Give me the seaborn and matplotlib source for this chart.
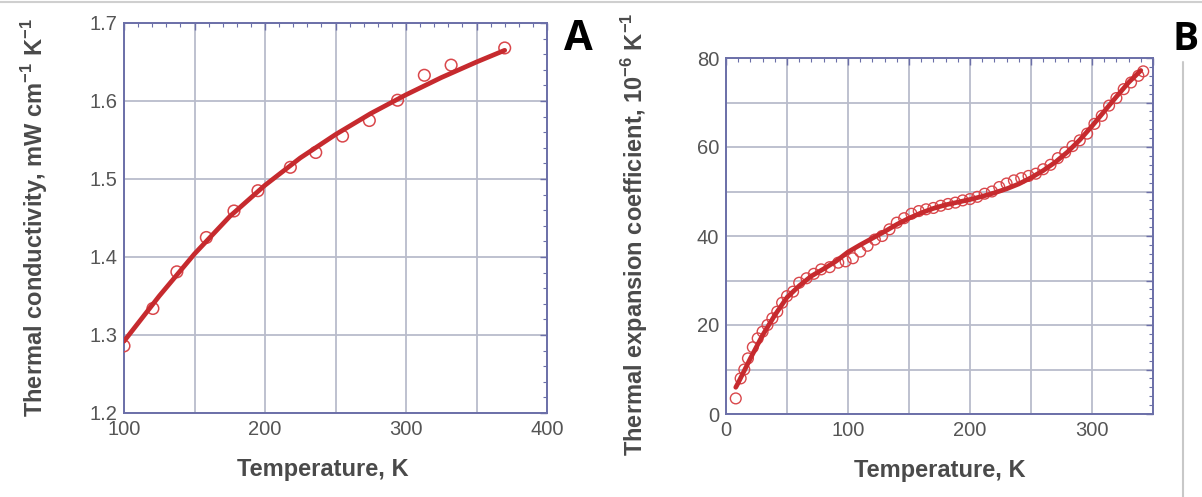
import matplotlib
matplotlib.use('Agg')
import matplotlib.pyplot as plt
import matplotlib.ticker as mticker
from matplotlib.lines import Line2D
import seaborn as sns
import pandas as pd

# Panel A: thermal conductivity
cond_T = [100, 120.5, 137.5, 158.4, 178, 195, 218, 236, 255, 274, 294, 313, 332, 370]
cond_val = [1.286, 1.334, 1.381, 1.425, 1.459, 1.485, 1.515, 1.534, 1.555, 1.575,
            1.601, 1.633, 1.646, 1.668]
cond_fit_T = [100, 125, 150, 175, 200, 225, 250, 275, 300, 325, 350, 370]
cond_fit_val = [1.292, 1.350, 1.404, 1.452, 1.492, 1.527, 1.557, 1.584, 1.608, 1.630,
                1.650, 1.665]

# Panel B: thermal expansion coefficient
exp_T = [8, 12, 15, 18, 22, 26, 30, 34, 38, 42, 46, 50, 55, 60, 66, 72, 78, 85, 92, 98,
         104, 110, 116, 122, 128, 134, 140, 146, 152, 158, 164, 170, 176, 182, 188, 194,
         200, 206, 212, 218, 224, 230, 236, 242, 248, 254, 260, 266, 272, 278, 284, 290,
         296, 302, 308, 314, 320, 326, 332, 338, 342]
exp_val = [3.5, 8, 10, 12.5, 15, 17, 18.5, 20, 21.5, 23, 25, 26.5, 27.5, 29.5, 30.5, 31.5,
           32.5, 33, 34, 34.3, 35, 36.5, 37.8, 39.2, 40, 41.5, 43, 44, 45, 45.6, 46, 46.3,
           46.8, 47.2, 47.5, 48, 48.3, 48.8, 49.5, 50, 51, 51.8, 52.5, 53, 53.5, 54, 55, 56,
           57.5, 58.8, 60.2, 61.5, 63, 65.2, 67, 69.3, 71, 73, 74.5, 76, 77]
exp_fit_T = [8, 10, 20, 30, 40, 50, 60, 70, 80, 90, 100, 110, 120, 130, 140, 150, 160,
             170, 180, 190, 200, 210, 220, 230, 240, 250, 260, 270, 280, 290, 300, 310,
             320, 330, 340]
exp_fit_val = [6.0, 7.0, 12.5, 17.7, 22.2, 26.2, 28.8, 31.0, 32.6, 34.3, 36.4, 38.0, 39.5,
               41.0, 42.6, 44.0, 45.2, 46.2, 47.0, 47.6, 48.2, 48.9, 49.7, 50.6, 51.7,
               53.1, 54.7, 56.6, 58.9, 61.6, 64.7, 68.0, 71.3, 74.5, 77.2]

sns.set_style("white")
plt.rcParams['font.family'] = ['Liberation Sans', 'DejaVu Sans']
plt.rcParams['mathtext.fontset'] = 'custom'
plt.rcParams['mathtext.bf'] = 'Liberation Sans:bold'
plt.rcParams['mathtext.rm'] = 'Liberation Sans'

line_color = '#c62a2e'
dot_color = '#d9474b'
frame_color = '#6b6fa8'
grid_color = '#b9bccb'
text_color = '#4a4a4a'

W, H = 1202, 497
fig = plt.figure(figsize=(W / 100, H / 100), dpi=100)


def box(left, top, right, bottom):
    return [left / W, 1 - bottom / H, (right - left) / W, (bottom - top) / H]


axA = fig.add_axes(box(124, 23, 547, 413))
axB = fig.add_axes(box(726, 58, 1153, 414))


def style(ax, xmaj, xlab, xmin, ymaj, ylab, ymin, yfmt):
    ax.xaxis.set_major_locator(mticker.MultipleLocator(xmaj))
    ax.xaxis.set_minor_locator(mticker.MultipleLocator(xmin))
    ax.yaxis.set_major_locator(mticker.MultipleLocator(ymaj))
    ax.yaxis.set_minor_locator(mticker.MultipleLocator(ymin))
    ax.xaxis.set_major_formatter(mticker.FuncFormatter(
        lambda v, p: f"{v:.0f}" if abs(v / xlab - round(v / xlab)) < 1e-6 else ""))
    ax.yaxis.set_major_formatter(mticker.FuncFormatter(
        lambda v, p: format(v, yfmt) if abs(v / ylab - round(v / ylab)) < 1e-6 else ""))
    ax.grid(True, which='major', color=grid_color, linewidth=1.3)
    ax.set_axisbelow(True)
    for s in ax.spines.values():
        s.set_color(frame_color)
        s.set_linewidth(1.4)
    ax.tick_params(which='both', direction='in', top=True, right=True,
                   color=frame_color, labelcolor='#555555', labelsize=14.5, pad=5)
    ax.tick_params(which='major', length=5, width=1.0)
    ax.tick_params(which='minor', length=3, width=0.8)


label_kw = dict(fontsize=17, fontweight='bold', color=text_color)

# Panel A
dfA = pd.DataFrame({'T': cond_T, 'k': cond_val})
dfA_fit = pd.DataFrame({'T': cond_fit_T, 'k': cond_fit_val})
sns.scatterplot(data=dfA, x='T', y='k', ax=axA, s=70, facecolors='none',
                edgecolor=dot_color, linewidth=1.1, zorder=3)
sns.lineplot(data=dfA_fit, x='T', y='k', ax=axA, color=line_color, linewidth=3.4,
             zorder=4)
axA.set_xlim(100, 400)
axA.set_ylim(1.2, 1.7)
style(axA, 50, 100, 10, 0.1, 0.1, 0.02, '.1f')
axA.set_xlabel('Temperature, K', **label_kw)
axA.set_ylabel(r'Thermal conductivity, mW cm$^{\mathbf{-1}}$ K$^{\mathbf{-1}}$',
               **label_kw)
axA.xaxis.set_label_coords(0.47, -0.115)
axA.yaxis.set_label_coords(-0.175, 0.5)

# Panel B
dfB = pd.DataFrame({'T': exp_T, 'a': exp_val})
dfB_fit = pd.DataFrame({'T': exp_fit_T, 'a': exp_fit_val})
sns.scatterplot(data=dfB, x='T', y='a', ax=axB, s=60, facecolors='none',
                edgecolor=dot_color, linewidth=1.0, zorder=3)
sns.lineplot(data=dfB_fit, x='T', y='a', ax=axB, color=line_color, linewidth=3.4,
             zorder=4)
axB.set_xlim(0, 350)
axB.set_ylim(0, 80)
style(axB, 50, 100, 10, 10, 20, 2, '.0f')
axB.set_xlabel('Temperature, K', **label_kw)
axB.set_ylabel(r'Thermal expansion coefficient, 10$^{\mathbf{-6}}$ K$^{\mathbf{-1}}$',
               **label_kw)
axB.xaxis.set_label_coords(0.5, -0.125)
axB.yaxis.set_label_coords(-0.178, 0.505)

# panel letters
fig.text(578 / W, 1 - 40 / H, 'A', fontsize=30, fontweight='bold', color='black',
         ha='center', va='center', family=['Open Sans', 'DejaVu Sans'])
fig.text(1186 / W, 1 - 40 / H, 'B', fontsize=28, fontweight='bold', color='black',
         ha='center', va='center', family=['Open Sans', 'DejaVu Sans'])

# screenshot border lines
fig.add_artist(Line2D([0, 1], [1 - 2 / H, 1 - 2 / H], color='#cfcfcf', linewidth=1.5))
fig.add_artist(Line2D([1183 / W, 1183 / W], [0, 1 - 62 / H], color='#c8c8c8',
                      linewidth=1.5))

fig.savefig('out.png', dpi=100)
plt.close(fig)
